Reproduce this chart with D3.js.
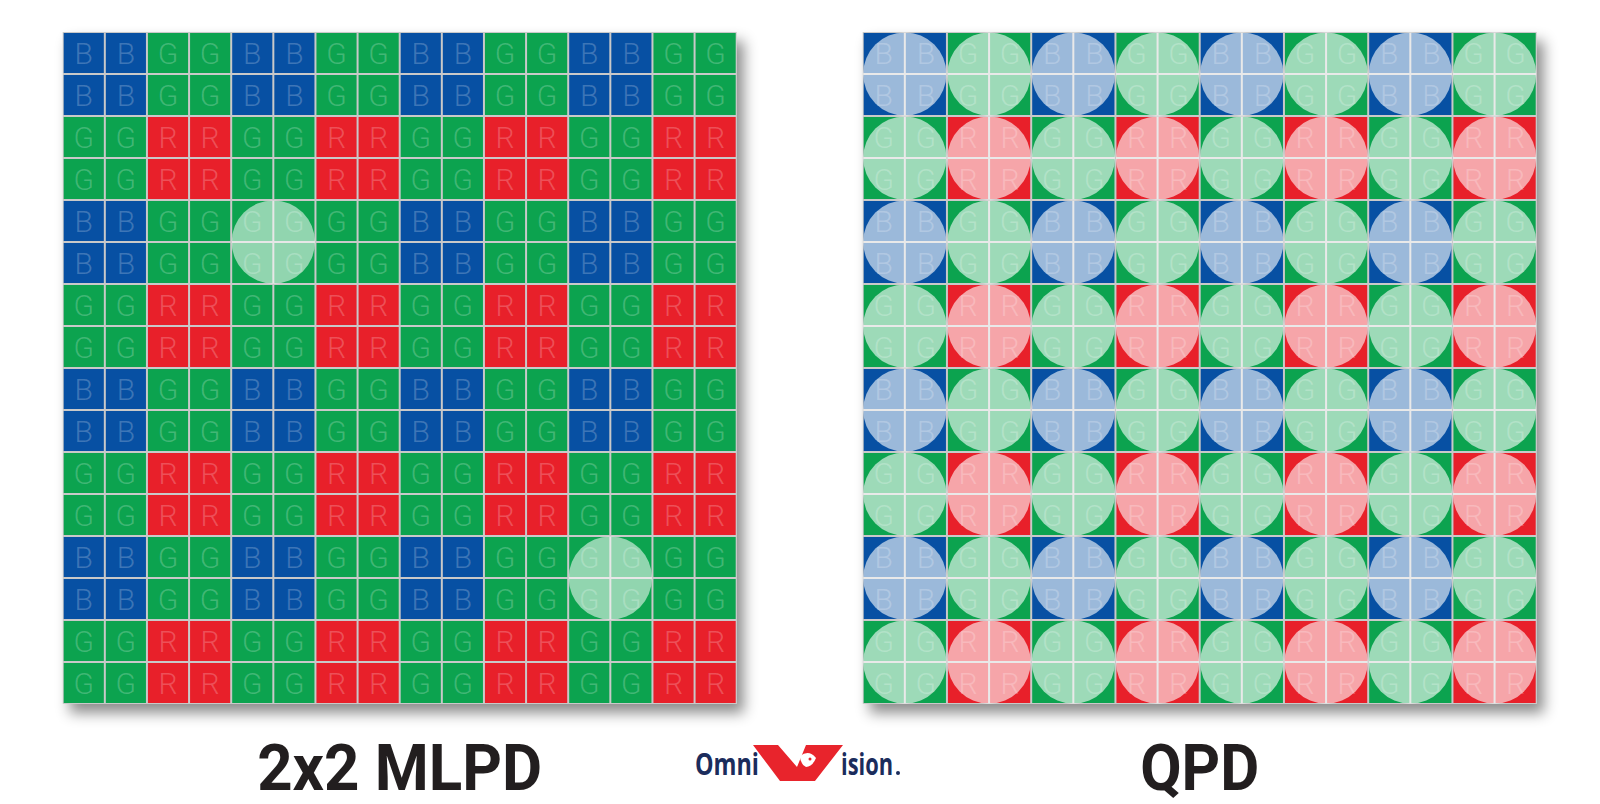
<!DOCTYPE html>
<html lang="en">
<head>
    <meta charset="UTF-8">
    <title>2x2 MLPD vs QPD</title>
    <script src="https://d3js.org/d3.v7.min.js"></script>
    <style>
        body { margin: 0; background: #fff; }
        .cell-letter { font-family: Roboto, "Open Sans", sans-serif; font-weight: 300; }
        .panel-title { font-family: Roboto, "Open Sans", sans-serif; font-weight: 700; fill: #221e1f; }
        .logo-text { font-family: "Open Sans", sans-serif; font-weight: 700; fill: #1b2c5c; }
    </style>
</head>
<body>
<div id="chart"></div>
<script>
const width = 1600;
const height = 804;

// sensor layout
const gridIndex = d3.range(16);
const cfaBlock = [["B", "G"], ["G", "R"]];      // quad bayer: each filter covers 2x2 pixels
const filterNames = ["B", "G", "R"];
const panelNames = ["2x2 MLPD", "QPD"];
const mlpdLenses = [[4, 4], [12, 12]];            // [col,row] of top-left pixel under a 2x2 lens
const mlpdLensFilter = "G";                       // the blue block under each MLPD lens is swapped for green
const qpdLenses = d3.cross(d3.range(0, 16, 2), d3.range(0, 16, 2));

const color = d3.scaleOrdinal()
    .domain(filterNames)
    .range(["#0750a3", "#0ca34f", "#e8202a"]);

const panelX = d3.scaleBand().domain(panelNames).range([62.7, 1662.7]).paddingInner(0);
const panelW = 674, panelH = 672;

const svg = d3.select("#chart")
    .append("svg")
    .attr("width", width)
    .attr("height", height);

const defs = svg.append("defs");
const shadow = defs.append("filter")
    .attr("id", "shadow")
    .attr("x", "-10%").attr("y", "-10%")
    .attr("width", "125%").attr("height", "125%");
shadow.append("feDropShadow")
    .attr("dx", 7).attr("dy", 9)
    .attr("stdDeviation", 7)
    .attr("flood-color", "#000")
    .attr("flood-opacity", 0.45);

const x = d3.scaleBand().domain(gridIndex).range([0, panelW]);
const y = d3.scaleBand().domain(gridIndex).range([0, panelH]);

const filterAt = (c, r) => cfaBlock[Math.floor(r / 2) % 2][Math.floor(c / 2) % 2];
const underLens = (lenses, c, r) => lenses.some(([lc, lr]) => c >= lc && c < lc + 2 && r >= lr && r < lr + 2);

panelNames.forEach((name, i) => {
    const lenses = i === 0 ? mlpdLenses : qpdLenses;
    const cells = d3.cross(gridIndex, gridIndex).map(([c, r]) => ({
        c, r,
        f: (i === 0 && underLens(mlpdLenses, c, r)) ? mlpdLensFilter : filterAt(c, r)
    }));

    const g = svg.append("g")
        .attr("transform", `translate(${panelX(name)},32)`);

    g.append("rect")
        .attr("width", panelW)
        .attr("height", panelH)
        .attr("fill", "#c9c9c9")
        .attr("filter", "url(#shadow)");

    const cell = g.selectAll("g.cell")
        .data(cells)
        .join("g")
        .attr("class", "cell")
        .attr("transform", d => `translate(${x(d.c)},${y(d.r)})`);

    cell.append("rect")
        .attr("x", 1).attr("y", 1)
        .attr("width", x.bandwidth() - 2)
        .attr("height", y.bandwidth() - 2)
        .attr("fill", d => color(d.f));

    cell.append("text")
        .attr("class", "cell-letter")
        .attr("x", x.bandwidth() / 2)
        .attr("y", y.bandwidth() / 2 + 11)
        .attr("text-anchor", "middle")
        .attr("font-size", 30)
        .attr("fill", "#fff")
        .attr("fill-opacity", 0.22)
        .text(d => d.f);

    g.selectAll("circle.lens")
        .data(lenses)
        .join("circle")
        .attr("class", "lens")
        .attr("cx", d => x(d[0]) + x.bandwidth())
        .attr("cy", d => y(d[1]) + y.bandwidth())
        .attr("r", x.bandwidth() - 0.5)
        .attr("fill", "#fff")
        .attr("fill-opacity", i === 0 ? 0.55 : 0.6);

    svg.append("text")
        .attr("class", "panel-title")
        .attr("x", panelX(name) + panelW / 2)
        .attr("y", 790)
        .attr("text-anchor", "middle")
        .attr("font-size", 64)
        .attr("textLength", i === 0 ? 285 : 119)
        .attr("lengthAdjust", "spacingAndGlyphs")
        .text(name);
});

// OmniVision logo
const logo = svg.append("g");
logo.append("text")
    .attr("class", "logo-text")
    .attr("x", 695).attr("y", 775)
    .attr("font-size", 30)
    .attr("textLength", 64)
    .attr("lengthAdjust", "spacingAndGlyphs")
    .text("Omni");
logo.append("polygon")
    .attr("points", "753,745 778,745 797,767 806,745 843,745 815,781 780,781")
    .attr("fill", "#e8242c");
logo.append("path")
    .attr("d", "M800,756 q9,-7 16,2 q-3,8 -10,9 q-6,-3 -6,-11 z")
    .attr("fill", "#fff");
logo.append("circle")
    .attr("cx", 810).attr("cy", 759).attr("r", 1.5)
    .attr("fill", "#e8242c");
logo.append("text")
    .attr("class", "logo-text")
    .attr("x", 841).attr("y", 775)
    .attr("font-size", 30)
    .attr("textLength", 52)
    .attr("lengthAdjust", "spacingAndGlyphs")
    .text("ision");
logo.append("circle")
    .attr("cx", 898).attr("cy", 773).attr("r", 2)
    .attr("fill", "#1b2c5c");
</script>
</body>
</html>
